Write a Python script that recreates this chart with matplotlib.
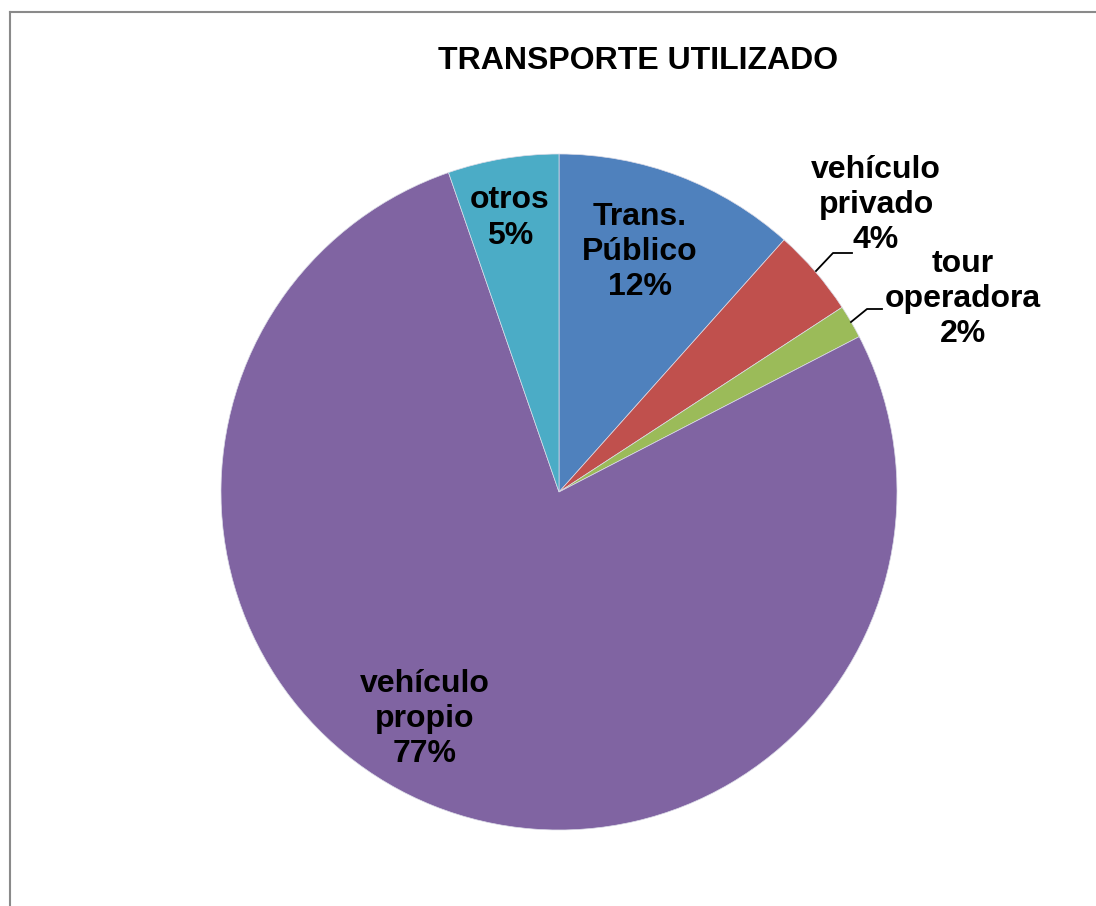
import matplotlib.pyplot as plt
from matplotlib.lines import Line2D

plt.rcParams['font.family'] = ['Liberation Sans', 'DejaVu Sans']

# slices clockwise from 12 o'clock
categories = ['Trans.\nPúblico', 'vehículo\nprivado', 'tour\noperadora', 'vehículo\npropio', 'otros']
values = [11.6, 4.2, 1.6, 77.3, 5.3]
colors = ['#4F81BD', '#C0504D', '#9BBB59', '#8064A2', '#4BACC6']
title = 'TRANSPORTE UTILIZADO'

W, H = 1096, 906
cx, cy, r = 559, 492, 338

fig = plt.figure(figsize=(W / 100, H / 100), dpi=100)
ax = fig.add_axes([0, 0, 1, 1])

wedges, _ = ax.pie(values, colors=colors, startangle=90, counterclock=False,
                   radius=1, center=(0, 0), frame=True,
                   wedgeprops=dict(linewidth=0.5, edgecolor='#dcdce8'))
ax.set_xlim(-cx / r, (W - cx) / r)
ax.set_ylim(-(H - cy) / r, cy / r)
ax.set_aspect('equal')
ax.axis('off')


def px(x, y):
    return ((x - cx) / r, (cy - y) / r)


pcts = ['%.0f%%' % v for v in values]
fs = 23
tk = dict(fontsize=fs, fontweight='bold', ha='center', va='center', linespacing=1.22)

# inside labels
ax.text(*px(640, 252), categories[0] + '\n' + pcts[0], **tk)
ax.text(*px(425, 719), categories[3] + '\n' + pcts[3], **tk)
ax.text(*px(510, 218), categories[4] + '\n' + pcts[4], **tk)

# outside labels with leader lines
ax.text(*px(876, 205), categories[1] + '\n' + pcts[1], **tk)
ax.plot(*zip(px(816, 271), px(833, 253), px(852, 253)), color='black', lw=1.3)
ax.text(*px(963, 299), categories[2] + '\n' + pcts[2], **tk)
ax.plot(*zip(px(851, 322), px(867, 309), px(882, 309)), color='black', lw=1.3)

fig.text(638 / W, 1 - 61 / H, title, fontsize=23, fontweight='bold', ha='center', va='center')

# chart frame (only top and left visible)
fig.add_artist(Line2D([9.5 / W, 9.5 / W], [0, 1 - 11.5 / H], transform=fig.transFigure, color='#8a8a8a', lw=1.5))
fig.add_artist(Line2D([9.5 / W, 1], [1 - 11.5 / H, 1 - 11.5 / H], transform=fig.transFigure, color='#8a8a8a', lw=1.5))

fig.savefig('out.png', dpi=100, facecolor='white')
